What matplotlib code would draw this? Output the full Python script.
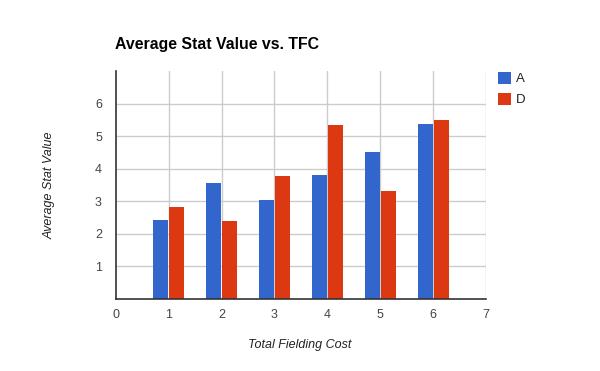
import matplotlib
matplotlib.use("Agg")
import matplotlib.pyplot as plt
import numpy as np

plt.rcParams["font.family"] = ["Liberation Sans", "DejaVu Sans"]

# Values
tfc = [1, 2, 3, 4, 5, 6]
series_a = [2.44, 3.55, 3.05, 3.82, 4.50, 5.36]
series_d = [2.84, 2.40, 3.79, 5.33, 3.33, 5.49]
series_names = ["A", "D"]
colors = ["#3366cc", "#dc3912"]

fig = plt.figure(figsize=(6.0, 3.71), dpi=100)
ax = fig.add_axes([0.193, 0.194, 0.6167, 0.6146])

x = np.array(tfc)
width = 0.284
ax.bar(x - 0.15, series_a, width=width, color=colors[0], label=series_names[0], zorder=3)
ax.bar(x + 0.153, series_d, width=width, color=colors[1], label=series_names[1], zorder=3)

ax.set_xlim(0, 7)
ax.set_ylim(0, 7)
ax.set_xticks(range(0, 8))
ax.set_yticks(range(1, 7))

for v in range(1, 8):
    ax.axvline(v, color="#cccccc", lw=1, zorder=1)
for v in range(1, 7):
    ax.axhline(v, color="#cccccc", lw=1, zorder=1)

for s in ["top", "right"]:
    ax.spines[s].set_visible(False)
for s in ["left", "bottom"]:
    ax.spines[s].set_color("#333333")
    ax.spines[s].set_linewidth(1.2)
    ax.spines[s].set_zorder(4)

ax.tick_params(length=0, labelsize=9, colors="#444444")
ax.tick_params(axis="x", pad=7)
ax.tick_params(axis="y", pad=10)

fig.text(0.192, 0.879, "Average Stat Value vs. TFC", fontsize=11.4,
         fontweight="bold", color="#000000", ha="left", va="center")
fig.text(0.5, 0.07, "Total Fielding Cost", fontsize=9, style="italic",
         color="#222222", ha="center", va="center")
fig.text(0.082, 0.5, "Average Stat Value", fontsize=9, style="italic",
         color="#222222", ha="center", va="center", rotation=90)

leg = ax.legend(loc="upper left", bbox_to_anchor=(1.02, 1.02), frameon=False,
                handlelength=0.95, handleheight=1.0, handletextpad=0.4,
                labelspacing=0.6, fontsize=9.5, borderaxespad=0)
for t in leg.get_texts():
    t.set_color("#222222")

fig.savefig("out.png", dpi=100)
